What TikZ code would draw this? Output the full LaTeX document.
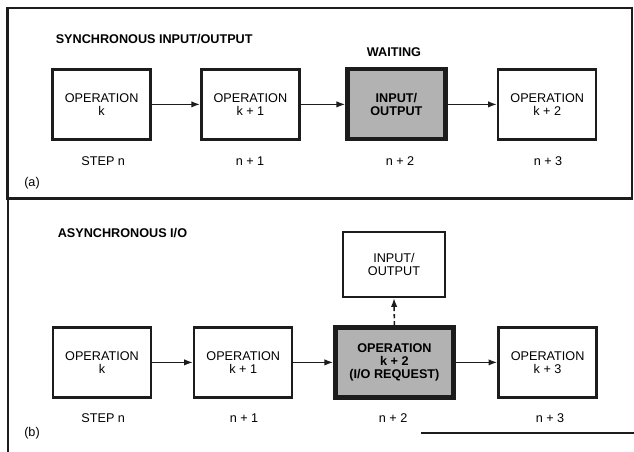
\documentclass[tikz,border=0pt]{standalone}
\usepackage{fontspec}
\setmainfont{Liberation Sans}
\usepackage{tikz}
\usetikzlibrary{arrows.meta,positioning}
\definecolor{cLine}{HTML}{1C1C1C}
\definecolor{cShade}{HTML}{B2B2B2}
\tikzset{
  opbox/.style   = {rectangle, draw=cLine, line width=1.8pt, align=center,
                    font=\fontsize{9}{9.6}\selectfont, inner sep=2pt,
                    minimum width=2.45cm, minimum height=1.75cm},
  busy/.style    = {opbox, fill=cShade, line width=3pt,
                    font=\fontsize{9}{9.6}\selectfont\bfseries},
  frm/.style     = {draw=cLine, line width=2pt},
  steplab/.style = {font=\fontsize{9}{11}\selectfont},
  ttl/.style     = {font=\fontsize{9}{11}\selectfont\bfseries, anchor=west},
  fl/.style      = {-{Latex[length=2.2mm,width=1.6mm]}, draw=cLine, line width=1.1pt},
  flb/.style     = {fl, dash pattern=on 3pt off 2pt},
}

\begin{document}
\begin{tikzpicture}
  \useasboundingbox (0,0) rectangle (15.85,11.3);

  % ---- FRAMES ----
  \draw[frm] (0.19,6.33) rectangle (15.8,11.1);
  \draw[frm] (0.2,0) -- (0.2,6.33);
  \draw[cLine, line width=1.5pt] (10.52,0.47) -- (15.85,0.47);

  % ---- (a) SYNCHRONOUS ----
  \node[ttl] (tsync) at (1.27,10.33) {SYNCHRONOUS INPUT/OUTPUT};
  \node[opbox] (a1) at (2.54,8.69) {OPERATION\\k};
  \node[opbox] (a2) at (6.26,8.69) {OPERATION\\k + 1};
  \node[busy]  (a3) at (9.91,8.69) {INPUT/\\OUTPUT};
  \node[opbox] (a4) at (13.68,8.69) {OPERATION\\k + 2};
  \node[steplab] (wait) at (9.85,10.0) {\textbf{WAITING}};
  \node[steplab] (sa1) at (2.58,7.27) {STEP n};
  \node[steplab] (sa2) at (6.25,7.27) {n + 1};
  \node[steplab] (sa3) at (10.0,7.27) {n + 2};
  \node[steplab] (sa4) at (13.7,7.27) {n + 3};
  \node[steplab] (la) at (0.8,6.72) {(a)};

  % ---- (b) ASYNCHRONOUS ----
  \node[ttl] (tasync) at (1.32,5.47) {ASYNCHRONOUS I/O};
  \node[opbox] (b1) at (2.55,2.24) {OPERATION\\k};
  \node[opbox] (b2) at (6.08,2.24) {OPERATION\\k + 1};
  \node[busy, minimum width=2.95cm] (b3) at (9.86,2.24) {OPERATION\\k + 2\\(I/O REQUEST)};
  \node[opbox] (b4) at (13.69,2.24) {OPERATION\\k + 3};
  \node[opbox, minimum width=2.55cm, minimum height=1.62cm] (bio) at (9.85,4.69) {INPUT/\\OUTPUT};
  \node[steplab] (sb1) at (2.58,0.85) {STEP n};
  \node[steplab] (sb2) at (6.1,0.85) {n + 1};
  \node[steplab] (sb3) at (9.83,0.85) {n + 2};
  \node[steplab] (sb4) at (13.75,0.85) {n + 3};
  \node[steplab] (lb) at (0.8,0.47) {(b)};

  % ---- FLOW ----
  \draw[fl] (a1) -- (a2);
  \draw[fl] (a2) -- (a3);
  \draw[fl] (a3) -- (a4);
  \draw[fl] (b1) -- (b2);
  \draw[fl] (b2) -- (b3);
  \draw[fl] (b3) -- (b4);
  \draw[flb] (b3.north) -- (bio.south);
\end{tikzpicture}
\end{document}
